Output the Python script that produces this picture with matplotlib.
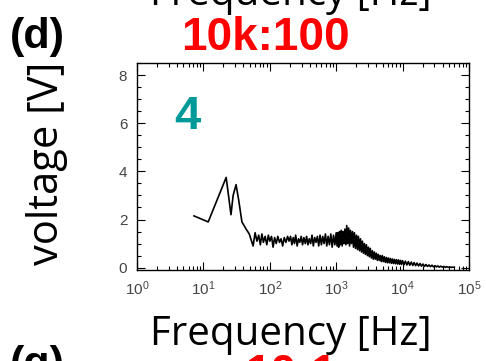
import matplotlib
matplotlib.use("Agg")
import matplotlib.pyplot as plt
from matplotlib.ticker import LogLocator, MultipleLocator, NullFormatter

# spectrum: frequency [Hz] / voltage [V]
freq = [7.2, 11.8, 22, 26, 28, 31, 34, 38, 44, 49, 56,
        60, 64, 68, 72, 76, 80, 85, 90, 95, 100, 106, 112, 118, 125, 132, 140, 148, 156, 165, 175, 185, 195,
        205, 215, 225, 235, 245, 258, 270, 283, 297, 311, 326, 342, 358, 375, 393, 412, 432, 452, 474, 497,
        520, 545, 571, 598, 627, 657, 688, 721, 755, 791, 829, 869, 910, 954, 1000,
        1030, 1060, 1090, 1120, 1150, 1190, 1230, 1270, 1310, 1350, 1400, 1440, 1490, 1540, 1590, 1640,
        1700, 1760, 1820, 1880, 1950, 2020, 2090, 2160, 2240, 2320, 2400, 2480, 2570, 2660, 2750, 2850, 2950,
        3050, 3150, 3260, 3380, 3500, 3620, 3750, 3880, 4020, 4160, 4310, 4460, 4620, 4780, 4950, 5130,
        5310, 5500, 5700, 5900, 6110, 6330, 6550, 6780, 7020, 7270, 7530, 7800, 8080, 8370, 8670, 8980,
        9300, 9630, 9970,
        10500, 11000, 11600, 12200, 12800, 13500, 14200, 14900, 15700, 16500, 17400, 18300, 19300, 20300,
        21400, 22500, 23700, 25000, 26300, 27700, 29200, 30700, 32300, 34000, 35800, 37700, 39700, 41800,
        44000, 46300, 48800, 51400, 54100, 57000, 60000]
volt = [2.15, 1.9, 3.75, 2.2, 3.0, 3.45, 2.8, 1.9, 1.6, 1.4, 0.9,
        1.45, 1.1, 1.35, 0.95, 1.4, 1.05, 1.3, 0.95, 1.35, 1.1, 1.3, 0.85, 1.25, 1.0, 1.3, 1.05, 1.2, 0.9, 1.25, 1.05, 1.3, 1.1,
        1.3, 0.95, 1.25, 1.0, 1.35, 0.9, 1.2, 1.05, 1.3, 0.95, 1.25, 1.0, 1.3, 0.95, 1.2, 1.0, 1.35, 0.9, 1.25, 1.05,
        1.3, 0.9, 1.35, 0.95, 1.3, 1.0, 1.4, 0.9, 1.3, 0.95, 1.4, 0.85, 1.35, 0.95, 1.45,
        0.9, 1.45, 0.85, 1.5, 0.95, 1.55, 0.9, 1.5, 1.0, 1.6, 0.95, 1.75, 1.0, 1.65, 0.9, 1.55,
        1.0, 1.5, 0.85, 1.45, 0.8, 1.35, 0.75, 1.3, 0.7, 1.2, 0.65, 1.1, 0.6, 1.0, 0.55, 0.95, 0.5,
        0.85, 0.45, 0.8, 0.4, 0.7, 0.35, 0.65, 0.35, 0.6, 0.3, 0.55, 0.3, 0.5, 0.25, 0.5, 0.25,
        0.45, 0.22, 0.42, 0.2, 0.4, 0.2, 0.38, 0.18, 0.36, 0.17, 0.34, 0.16, 0.33, 0.15, 0.32, 0.14,
        0.3, 0.13, 0.29,
        0.12, 0.27, 0.11, 0.25, 0.1, 0.23, 0.09, 0.21, 0.08, 0.19, 0.07, 0.17, 0.06, 0.15,
        0.05, 0.13, 0.05, 0.11, 0.04, 0.1, 0.03, 0.08, 0.03, 0.07, 0.02, 0.06, 0.02, 0.05,
        0.01, 0.04, 0.01, 0.03, 0.01, 0.02, 0.01]

panel = "(d)"
next_panel = "(g)"
ratio = "10k:100"
next_ratio = "10:1"
trace_no = "4"
xlabel = "Frequency [Hz]"
ylabel = "voltage [V]"

plt.rcParams['font.family'] = ['Liberation Sans', 'DejaVu Sans']
plt.rcParams['mathtext.fontset'] = 'custom'
plt.rcParams['mathtext.rm'] = 'Liberation Sans'
plt.rcParams['mathtext.it'] = 'Liberation Sans'

fig = plt.figure(figsize=(4.86, 3.61), dpi=100)
ax = fig.add_axes([0.282, 0.252, 0.683, 0.573])

ax.plot(freq, volt, color='black', lw=1.2)
ax.set_xscale('log')
ax.set_xlim(1, 1e5)
ax.set_ylim(-0.1, 8.5)

ax.xaxis.set_major_locator(LogLocator(base=10, numticks=10))
ax.xaxis.set_minor_locator(LogLocator(base=10, subs=range(2, 10), numticks=20))
ax.xaxis.set_minor_formatter(NullFormatter())
ax.yaxis.set_major_locator(MultipleLocator(2))
ax.yaxis.set_minor_locator(MultipleLocator(0.5))
ax.tick_params(which='both', direction='in', top=True, right=True, colors='black',
               labelcolor='#444444', labelsize=11)
ax.tick_params(which='major', length=6, width=0.8, pad=7)
ax.tick_params(which='minor', length=3, width=0.8)
for s in ax.spines.values():
    s.set_linewidth(1.0)

# text around the panel (font 'Open Sans' ~ Calibri look)
big = ['Open Sans', 'DejaVu Sans']
fig.text(291 / 486, 1 - 345 / 361, xlabel, family=big, fontsize=29, ha='center', va='baseline')
fig.text(291 / 486, 1 - 5 / 361, xlabel, family=big, fontsize=29, ha='center', va='baseline')
fig.text(47 / 486, 1 - 163 / 361, ylabel, family=big, fontsize=30, rotation=90, ha='center', va='center')
fig.text(37 / 486, 1 - 37 / 361, panel, fontsize=31, weight='bold', ha='center', va='center')
fig.text(37 / 486, 1 - 365 / 361, next_panel, fontsize=31, weight='bold', ha='center', va='center')
fig.text(265 / 486, 1 - 38 / 361, ratio, fontsize=33, weight='bold', color='red', ha='center', va='center')
fig.text(291 / 486, 1 - 375 / 361, next_ratio, fontsize=33, weight='bold', color='red', ha='center', va='center')
fig.text(187 / 486, 1 - 117 / 361, trace_no, fontsize=34, weight='bold', color='#009999', ha='center', va='center')

fig.savefig('out.png', dpi=100)
